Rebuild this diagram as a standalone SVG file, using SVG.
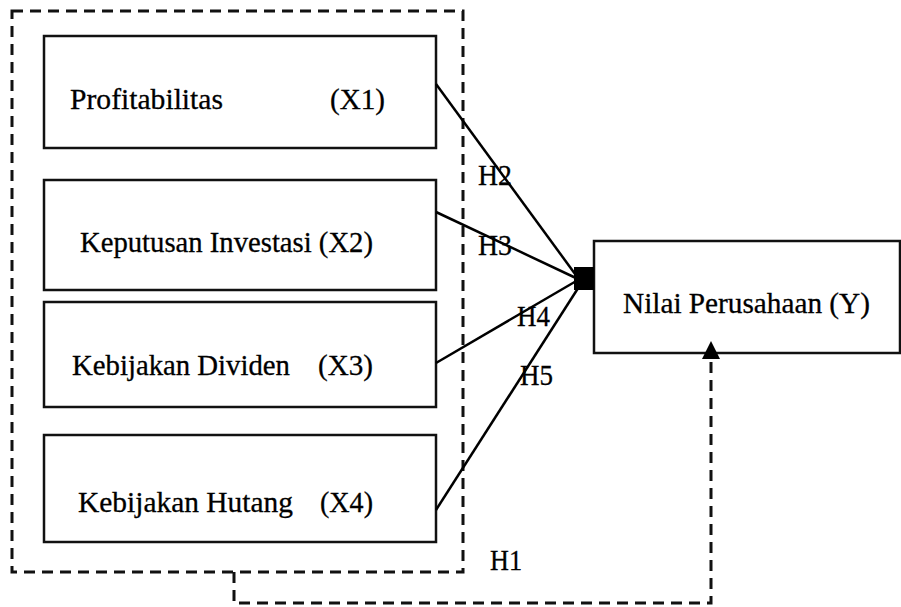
<svg xmlns="http://www.w3.org/2000/svg" width="901" height="607" viewBox="0 0 901 607">
<style>
.box{fill:#fff;stroke:#111;stroke-width:2.5}
.t{font-family:"Liberation Serif","Times New Roman",serif;font-size:30px;fill:#000;stroke:#000;stroke-width:0.3}
.ln{stroke:#000;stroke-width:2.5;fill:none}
.dash{stroke:#111;stroke-width:3;fill:none;stroke-dasharray:11 7}
</style>
<rect width="901" height="607" fill="#fff"/>
<g id="group-X">
<rect class="dash" x="12" y="11" width="451" height="561"/>
</g>
<g id="node-X1">
<rect class="box" x="44" y="36" width="392" height="112"/>
<text class="t" x="70" y="109" textLength="153" lengthAdjust="spacingAndGlyphs">Profitabilitas</text>
<text class="t" x="330" y="109" textLength="55" lengthAdjust="spacingAndGlyphs">(X1)</text>
</g>
<g id="node-X2">
<rect class="box" x="44" y="180" width="392" height="110"/>
<text class="t" x="80" y="252" textLength="293" lengthAdjust="spacingAndGlyphs">Keputusan Investasi (X2)</text>
</g>
<g id="node-X3">
<rect class="box" x="44" y="302" width="392" height="105"/>
<text class="t" x="72" y="375" textLength="218" lengthAdjust="spacingAndGlyphs">Kebijakan Dividen</text>
<text class="t" x="318" y="375" textLength="55" lengthAdjust="spacingAndGlyphs">(X3)</text>
</g>
<g id="node-X4">
<rect class="box" x="44" y="435" width="392" height="107"/>
<text class="t" x="78" y="512" textLength="215" lengthAdjust="spacingAndGlyphs">Kebijakan Hutang</text>
<text class="t" x="320" y="512" textLength="53" lengthAdjust="spacingAndGlyphs">(X4)</text>
</g>
<g id="node-Y">
<rect class="box" x="594" y="241" width="306" height="112"/>
<text class="t" x="623" y="313" textLength="247" lengthAdjust="spacingAndGlyphs">Nilai Perusahaan (Y)</text>
</g>
<g id="connectors">
<line class="ln" x1="436" y1="84" x2="578" y2="278"/>
<line class="ln" x1="436" y1="212" x2="578" y2="279"/>
<line class="ln" x1="436" y1="363" x2="578" y2="280"/>
<line class="ln" x1="436" y1="510" x2="582" y2="282"/>
<rect x="574" y="267" width="20" height="23" fill="#000"/>
<polyline class="dash" points="234,572 234,603 711,603 711,358"/>
<polygon points="711,341 702,359 720,359" fill="#000"/>
<text class="t" x="478" y="185" textLength="34" lengthAdjust="spacingAndGlyphs">H2</text>
<text class="t" x="478" y="255" textLength="34" lengthAdjust="spacingAndGlyphs">H3</text>
<text class="t" x="517" y="326" textLength="33" lengthAdjust="spacingAndGlyphs">H4</text>
<text class="t" x="520" y="385" textLength="33" lengthAdjust="spacingAndGlyphs">H5</text>
<text class="t" x="490" y="570" textLength="32" lengthAdjust="spacingAndGlyphs">H1</text>
</g>
</svg>
